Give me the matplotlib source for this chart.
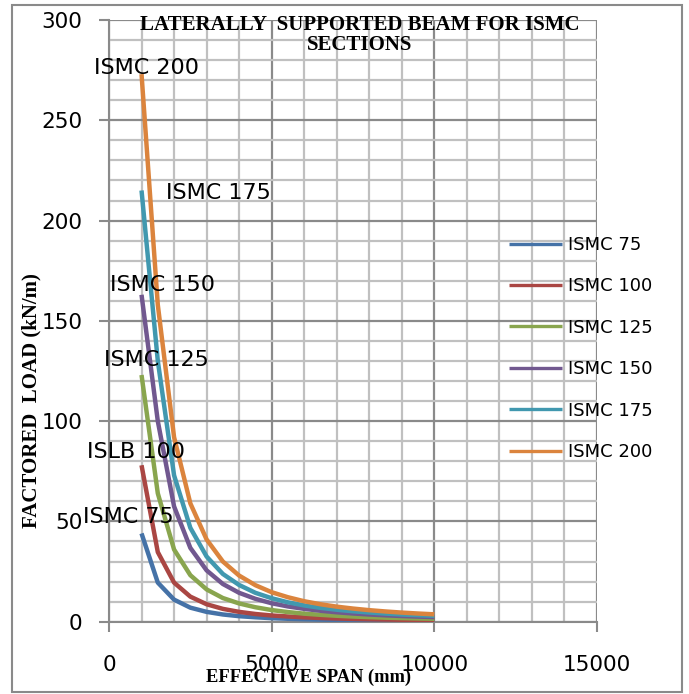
import numpy as np
import matplotlib
matplotlib.use('Agg')
import matplotlib.pyplot as plt
from matplotlib.patches import Rectangle
from matplotlib.ticker import MultipleLocator

# effective span (mm)
span = [1000, 1500, 2000, 2500, 3000, 3500, 4000, 4500, 5000, 5500,
        6000, 6500, 7000, 7500, 8000, 8500, 9000, 9500, 10000]

# factored load (kN/m)
ismc75 = [44, 19.5, 11, 7.0, 4.9, 3.6, 2.75, 2.2, 1.76, 1.45,
          1.22, 1.04, 0.9, 0.78, 0.69, 0.61, 0.54, 0.49, 0.44]
ismc100 = [78, 34.7, 19.5, 12.5, 8.7, 6.4, 4.9, 3.85, 3.1, 2.6,
           2.17, 1.85, 1.6, 1.39, 1.22, 1.08, 0.96, 0.86, 0.78]
ismc125 = [123, 64, 36, 23.2, 16.1, 11.8, 9.1, 7.2, 5.8, 4.8,
           4.0, 3.43, 2.96, 2.58, 2.27, 2.0, 1.79, 1.61, 1.45]
ismc150 = [163, 100, 57.5, 36.8, 25.6, 18.8, 14.4, 11.4, 9.2, 7.6,
           6.4, 5.45, 4.7, 4.1, 3.6, 3.18, 2.84, 2.55, 2.3]
ismc175 = [215, 130, 73, 46.8, 32.5, 23.8, 18.3, 14.4, 11.7, 9.65,
           8.1, 6.9, 5.97, 5.2, 4.57, 4.05, 3.6, 3.24, 2.92]
ismc200 = [273, 158, 92, 59, 41, 30, 23, 18.2, 14.7, 12.2,
           10.2, 8.7, 7.5, 6.55, 5.75, 5.1, 4.54, 4.08, 3.68]

series = [ismc75, ismc100, ismc125, ismc150, ismc175, ismc200]
legend_names = ['ISMC 75', 'ISMC 100', 'ISMC 125', 'ISMC 150', 'ISMC 175', 'ISMC 200']
colors = ['#4572A7', '#AA4643', '#89A54E', '#71588F', '#4198AF', '#DB843D']

# in-plot curve labels (data coords)
tag_text = ['ISMC 200', 'ISMC 175', 'ISMC 150', 'ISMC 125', 'ISLB 100', 'ISMC 75']
tag_x = [-460, 1750, 30, -150, -680, -800]
tag_y = [276, 213.5, 168, 130.5, 84.5, 52]

W, H = 689, 694
fig = plt.figure(figsize=(W / 100, H / 100), dpi=100, facecolor='white')
ax = fig.add_axes([109 / W, 1 - 621.7 / H, 488 / W, 601.7 / H])

ax.set_xlim(0, 15000)
ax.set_ylim(0, 300)
ax.xaxis.set_major_locator(MultipleLocator(5000))
ax.xaxis.set_minor_locator(MultipleLocator(1000))
ax.yaxis.set_major_locator(MultipleLocator(50))
ax.yaxis.set_minor_locator(MultipleLocator(10))
ax.grid(which='minor', color='#c0c0c0', lw=1.6, zorder=0)
ax.grid(which='major', color='#8a8a8a', lw=1.6, zorder=0)
ax.set_axisbelow(True)

for s in ['top', 'right']:
    ax.spines[s].set_visible(False)
for s in ['left', 'bottom']:
    ax.spines[s].set_color('#8a8a8a')
    ax.spines[s].set_linewidth(1.5)

ax.tick_params(which='major', direction='out', length=7, width=1.5, color='#8a8a8a',
               labelsize=15.5, labelcolor='black')
ax.tick_params(axis='x', which='major', pad=17)
ax.tick_params(axis='y', which='major', pad=12)
ax.tick_params(which='minor', length=0)

lines = []
for vals, name, c in zip(series, legend_names, colors):
    ln, = ax.plot(span, vals, color=c, lw=3.2, solid_joinstyle='round',
                  solid_capstyle='butt', label=name, zorder=3)
    lines.append(ln)

for t, x, y in zip(tag_text, tag_x, tag_y):
    ax.text(x, y, t, fontsize=16, ha='left', va='center', clip_on=False, zorder=5)

leg = fig.legend(handles=lines, loc='center left', bbox_to_anchor=(509 / W, 1 - 348.5 / H),
                 frameon=False, fontsize=13, handlelength=2.95, handletextpad=0.32,
                 labelspacing=1.3, borderpad=0, borderaxespad=0)
for h in leg.legend_handles:
    h.set_linewidth(2.4)

fig.text(360 / W, 1 - 35 / H, 'LATERALLY  SUPPORTED BEAM FOR ISMC\nSECTIONS',
         ha='center', va='center', family='Liberation Serif', weight='bold',
         fontsize=15, linespacing=0.95)
fig.text(31 / W, 1 - 401 / H, 'FACTORED  LOAD (kN/m)', rotation=90,
         ha='center', va='center', family='Liberation Serif', weight='bold', fontsize=15)
fig.text(309 / W, 1 - 677 / H, 'EFFECTIVE SPAN (mm)', ha='center', va='center',
         family='Liberation Serif', weight='bold', fontsize=13.3)

fig.patches.append(Rectangle((12 / W, 1 - 692 / H), 670 / W, 687 / H, transform=fig.transFigure,
                             fill=False, edgecolor='#8a8a8a', lw=1.5))

plt.savefig('out.png', dpi=100)
plt.close()
